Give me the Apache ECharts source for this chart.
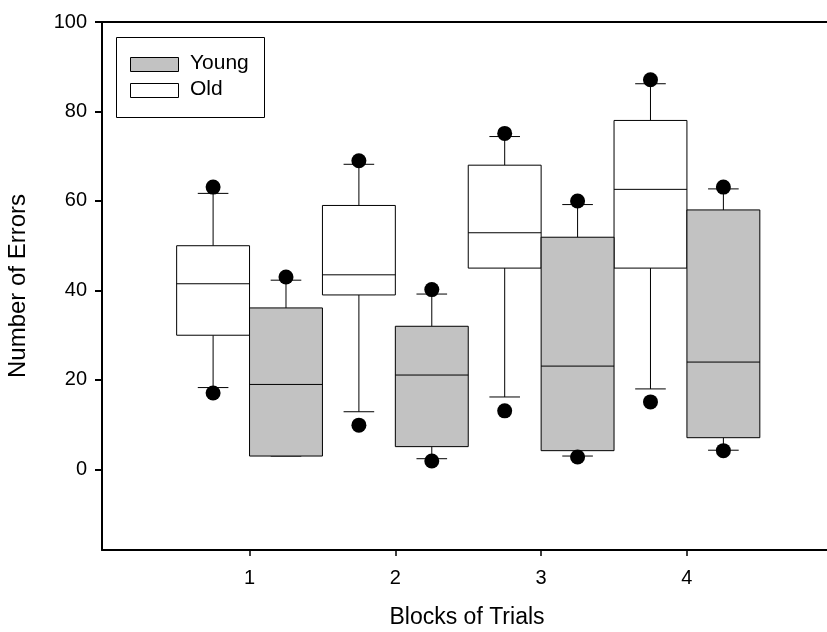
<!DOCTYPE html>
<html>
<head>
<meta charset="utf-8">
<script src="https://cdn.jsdelivr.net/npm/echarts@6/dist/echarts.min.js"></script>
<style>
html,body{margin:0;padding:0;background:#fff;}
#chart{width:827px;height:632px;}
</style>
</head>
<body>
<div id="chart"></div>
<script>
// ---- data ----
const categories = [1, 2, 3, 4];
const seriesNames = ['Young', 'Old'];
const yTicks = [0, 20, 40, 60, 80, 100];
const xTicks = [1, 2, 3, 4];
const xTitle = 'Blocks of Trials';
const yTitle = 'Number of Errors';

const oldLow  = [18.3, 12.9, 16.2, 18.0];
const oldQ1   = [30.0, 39.0, 45.0, 45.0];
const oldMed  = [41.5, 43.5, 52.9, 62.6];
const oldQ3   = [50.0, 59.0, 68.0, 78.0];
const oldHigh = [61.7, 68.2, 74.4, 86.2];
const oldOutliers = [[63.1, 17.1], [69.0, 9.9], [75.1, 13.1], [87.1, 15.1]];

const youngLow  = [3.0, 2.4, 3.0, 4.3];
const youngQ1   = [3.0, 5.1, 4.2, 7.1];
const youngMed  = [19.0, 21.1, 23.1, 24.0];
const youngQ3   = [36.1, 32.0, 51.9, 58.0];
const youngHigh = [42.3, 39.2, 59.2, 62.7];
const youngOutliers = [[43.0], [40.2, 1.9], [60.0, 2.8], [63.1, 4.2]];

// ---- build ----
const FONT = '"Liberation Sans", Arial, Helvetica, sans-serif';
const YOUNG_FILL = '#c2c2c2';
const OLD_FILL = '#ffffff';
const OFFSET = 0.25;

function boxData(offset, low, q1, med, q3, high) {
  return categories.map((c, i) => [c + offset, low[i], q1[i], med[i], q3[i], high[i]]);
}
function outlierData(offset, outs) {
  const arr = [];
  outs.forEach((list, i) => list.forEach(v => arr.push([categories[i] + offset, v])));
  return arr;
}

function makeRender(fill) {
  return function (params, api) {
    const x = api.value(0);
    const low = api.value(1), q1 = api.value(2), med = api.value(3), q3 = api.value(4), high = api.value(5);
    const pLow = api.coord([x, low]);
    const pQ1 = api.coord([x, q1]);
    const pMed = api.coord([x, med]);
    const pQ3 = api.coord([x, q3]);
    const pHigh = api.coord([x, high]);
    const halfW = api.size([0.25, 0])[0];
    const capH = api.size([0.105, 0])[0];
    const cx = pMed[0];
    const ls = { stroke: '#000', lineWidth: 1, fill: null };
    return {
      type: 'group',
      children: [
        { type: 'line', shape: { x1: cx, y1: pHigh[1], x2: cx, y2: pQ3[1] }, style: ls },
        { type: 'line', shape: { x1: cx - capH, y1: pHigh[1], x2: cx + capH, y2: pHigh[1] }, style: ls },
        { type: 'line', shape: { x1: cx, y1: pLow[1], x2: cx, y2: pQ1[1] }, style: ls },
        { type: 'line', shape: { x1: cx - capH, y1: pLow[1], x2: cx + capH, y2: pLow[1] }, style: ls },
        { type: 'rect', shape: { x: cx - halfW, y: pQ3[1], width: 2 * halfW, height: pQ1[1] - pQ3[1] },
          style: { fill: fill, stroke: '#000', lineWidth: 1 } },
        { type: 'line', shape: { x1: cx - halfW, y1: pMed[1], x2: cx + halfW, y2: pMed[1] }, style: ls }
      ]
    };
  };
}

const chart = echarts.init(document.getElementById('chart'), null, { renderer: 'canvas' });

const option = {
  backgroundColor: '#fff',
  animation: false,
  grid: { left: 102, top: 22, width: 730, bottom: 82, containLabel: false, outerBoundsMode: 'none' },
  xAxis: [{
    type: 'value', min: -0.012, max: 4.995, position: 'bottom',
    name: xTitle, nameLocation: 'middle', nameGap: 56,
    nameTextStyle: { fontFamily: FONT, fontSize: 23, color: '#000' },
    axisLine: { show: true, onZero: false, lineStyle: { color: '#000', width: 2 } },
    axisTick: { show: true, length: 6, customValues: xTicks, lineStyle: { color: '#000', width: 1.5 } },
    axisLabel: { show: true, customValues: xTicks, margin: 18, fontFamily: FONT, fontSize: 20, color: '#000' },
    splitLine: { show: false }
  }, {
    type: 'value', min: -0.012, max: 4.995, position: 'top',
    axisLine: { show: true, onZero: false, lineStyle: { color: '#000', width: 2 } },
    axisTick: { show: false }, axisLabel: { show: false }, splitLine: { show: false }
  }],
  yAxis: {
    type: 'value', min: -18, max: 100,
    name: yTitle, nameLocation: 'middle', nameGap: 72, nameRotate: 90,
    nameTextStyle: { fontFamily: FONT, fontSize: 24, color: '#000' },
    axisLine: { show: true, onZero: false, lineStyle: { color: '#000', width: 2 } },
    axisTick: { show: true, length: 7, customValues: yTicks, lineStyle: { color: '#000', width: 2 } },
    axisLabel: { show: true, customValues: yTicks, margin: 15, fontFamily: FONT, fontSize: 20, color: '#000' },
    splitLine: { show: false }
  },
  series: [
    {
      name: seriesNames[1], type: 'custom', xAxisIndex: 0,
      renderItem: makeRender(OLD_FILL),
      encode: { x: 0, y: [1, 2, 3, 4, 5] },
      data: boxData(-OFFSET, oldLow, oldQ1, oldMed, oldQ3, oldHigh), z: 2
    },
    {
      name: seriesNames[0], type: 'custom', xAxisIndex: 0,
      renderItem: makeRender(YOUNG_FILL),
      encode: { x: 0, y: [1, 2, 3, 4, 5] },
      data: boxData(OFFSET, youngLow, youngQ1, youngMed, youngQ3, youngHigh), z: 2
    },
    {
      name: seriesNames[1] + ' outliers', type: 'scatter', xAxisIndex: 0,
      symbol: 'circle', symbolSize: 15, itemStyle: { color: '#000', opacity: 1 },
      data: outlierData(-OFFSET, oldOutliers), z: 3
    },
    {
      name: seriesNames[0] + ' outliers', type: 'scatter', xAxisIndex: 0,
      symbol: 'circle', symbolSize: 15, itemStyle: { color: '#000', opacity: 1 },
      data: outlierData(OFFSET, youngOutliers), z: 3
    }
  ],
  graphic: [
    { type: 'rect', left: 116, top: 37, shape: { width: 148, height: 80 },
      style: { fill: '#fff', stroke: '#000', lineWidth: 1 }, z: 10 },
    { type: 'rect', left: 130, top: 57, shape: { width: 48, height: 14 },
      style: { fill: YOUNG_FILL, stroke: '#000', lineWidth: 1 }, z: 11 },
    { type: 'text', left: 190, top: 53, style: { text: seriesNames[0], font: '21px ' + FONT, fill: '#000' }, z: 11 },
    { type: 'rect', left: 130, top: 83, shape: { width: 48, height: 14 },
      style: { fill: OLD_FILL, stroke: '#000', lineWidth: 1 }, z: 11 },
    { type: 'text', left: 190, top: 79, style: { text: seriesNames[1], font: '21px ' + FONT, fill: '#000' }, z: 11 }
  ]
};
chart.setOption(option);
</script>
</body>
</html>
